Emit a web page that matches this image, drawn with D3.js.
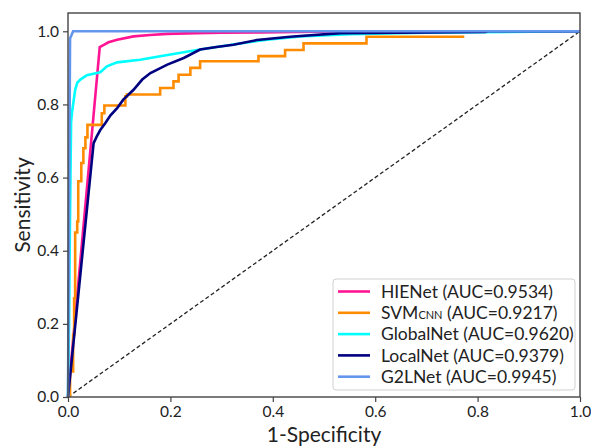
<!DOCTYPE html>
<html lang="en">
<head>
    <meta charset="UTF-8">
    <title>ROC</title>
    <style>
        body { margin: 0; background: #fff; }
        text { font-family: Lato, "Open Sans", sans-serif; fill: #222; }
    </style>
</head>
<body>
<script src="https://d3js.org/d3.v7.min.js"></script>
<script>
    // ROC points (fpr = 1-specificity, tpr = sensitivity)
    var hieFpr = [0, 0.062, 0.070, 0.079, 0.096, 0.128, 0.160, 0.194, 0.250, 0.300, 0.376, 0.550, 1.0];
    var hieTpr = [0, 0.957, 0.963, 0.970, 0.977, 0.986, 0.990, 0.993, 0.995, 0.996, 0.997, 1.0, 1.0];

    var svmFpr = [0.004, 0.004, 0.010, 0.010, 0.012, 0.012, 0.014, 0.014, 0.018, 0.018, 0.020, 0.020,
                  0.026, 0.026, 0.030, 0.030, 0.034, 0.034, 0.038, 0.038, 0.066, 0.066, 0.071, 0.071,
                  0.112, 0.112, 0.115, 0.115, 0.180, 0.180, 0.206, 0.206, 0.216, 0.216, 0.239, 0.239,
                  0.258, 0.258, 0.372, 0.372, 0.424, 0.424, 0.460, 0.460, 0.583, 0.583, 0.774];
    var svmTpr = [0, 0.070, 0.070, 0.170, 0.170, 0.270, 0.270, 0.450, 0.450, 0.480, 0.480, 0.590,
                  0.590, 0.640, 0.640, 0.680, 0.680, 0.710, 0.710, 0.744, 0.744, 0.776, 0.776, 0.797,
                  0.797, 0.822, 0.822, 0.827, 0.827, 0.845, 0.845, 0.863, 0.863, 0.881, 0.881, 0.900,
                  0.900, 0.918, 0.918, 0.932, 0.932, 0.949, 0.949, 0.967, 0.967, 0.985, 0.985];

    var globalFpr = [0, 0.002, 0.004, 0.006, 0.008, 0.011, 0.014, 0.018, 0.024, 0.037, 0.063, 0.076,
                     0.096, 0.141, 0.180, 0.258, 0.323, 0.389, 0.454, 0.550, 0.700, 1.0];
    var globalTpr = [0, 0.200, 0.500, 0.750, 0.780, 0.810, 0.840, 0.859, 0.868, 0.880, 0.888, 0.904,
                     0.915, 0.922, 0.932, 0.950, 0.964, 0.977, 0.986, 0.992, 0.996, 1.0];

    var localFpr = [0, 0.050, 0.056, 0.063, 0.073, 0.083, 0.096, 0.108, 0.128, 0.145, 0.161, 0.194,
                    0.226, 0.258, 0.290, 0.323, 0.369, 0.434, 0.532, 0.815, 0.820, 1.0];
    var localTpr = [0, 0.694, 0.712, 0.730, 0.749, 0.770, 0.790, 0.813, 0.840, 0.868, 0.886, 0.909,
                    0.927, 0.950, 0.957, 0.963, 0.976, 0.985, 0.995, 0.998, 1.0, 1.0];

    var g2lFpr = [0, 0.004, 0.010, 1.0];
    var g2lTpr = [0, 0.980, 1.0, 1.0];

    var names = ["HIENet", "SVM", "GlobalNet", "LocalNet", "G2LNet"];
    var aucs = ["0.9534", "0.9217", "0.9620", "0.9379", "0.9945"];
    var colors = ["#ff1493", "#ff8c00", "#00ffff", "#000080", "#6495ed"];
    var tickValues = [0, 0.2, 0.4, 0.6, 0.8, 1.0];

    var curves = [
        d3.zip(hieFpr, hieTpr),
        d3.zip(svmFpr, svmTpr),
        d3.zip(globalFpr, globalTpr),
        d3.zip(localFpr, localTpr),
        d3.zip(g2lFpr, g2lTpr)
    ];

    var width = 591, height = 448;
    var plotLeft = 68, plotRight = 580, plotTop = 13, plotBottom = 397;

    var svg = d3.select("body")
                .append("svg")
                .attr("width", width)
                .attr("height", height);

    var x = d3.scaleLinear().domain([0, 1]).range([plotLeft, plotRight]);
    var y = d3.scaleLinear().domain([0, 1.05]).range([plotBottom, plotTop]);

    // chance line
    svg.append("line")
        .attr("x1", x(0)).attr("y1", y(0))
        .attr("x2", x(1)).attr("y2", y(1))
        .attr("stroke", "#222")
        .attr("stroke-width", 1.3)
        .attr("stroke-dasharray", "4,2.5");

    var line = d3.line()
        .x(function (d) { return x(d[0]); })
        .y(function (d) { return y(d[1]); });

    svg.selectAll("path.roc")
        .data(curves)
        .enter()
        .append("path")
        .attr("class", "roc")
        .attr("d", line)
        .attr("fill", "none")
        .attr("stroke", function (d, i) { return colors[i]; })
        .attr("stroke-width", 2.6)
        .attr("stroke-linejoin", "miter");

    // axes
    var fmt = d3.format(".1f");
    var xAxis = svg.append("g")
        .attr("transform", "translate(0," + plotBottom + ")")
        .call(d3.axisBottom(x).tickValues(tickValues).tickFormat(fmt).tickSize(5).tickPadding(4));
    var yAxis = svg.append("g")
        .attr("transform", "translate(" + plotLeft + ",0)")
        .call(d3.axisLeft(y).tickValues(tickValues).tickFormat(fmt).tickSize(5).tickPadding(4));

    [xAxis, yAxis].forEach(function (g) {
        g.select(".domain").remove();
        g.selectAll(".tick line").attr("stroke", "#444").attr("stroke-width", 1.2);
        g.selectAll(".tick text")
            .attr("fill", "#333")
            .style("font-family", "Lato, sans-serif")
            .style("font-size", "15.5px");
    });

    // frame
    svg.append("rect")
        .attr("x", plotLeft).attr("y", plotTop)
        .attr("width", plotRight - plotLeft).attr("height", plotBottom - plotTop)
        .attr("fill", "none")
        .attr("stroke", "#444")
        .attr("stroke-width", 1.4);

    // axis titles
    svg.append("text")
        .attr("x", (plotLeft + plotRight) / 2)
        .attr("y", 442)
        .attr("text-anchor", "middle")
        .style("font-size", "21px")
        .text("1-Specificity");

    svg.append("text")
        .attr("transform", "translate(30," + (plotTop + plotBottom) / 2 + ") rotate(-90)")
        .attr("text-anchor", "middle")
        .style("font-size", "21px")
        .text("Sensitivity");

    // legend
    var legend = svg.append("g");
    legend.append("rect")
        .attr("x", 333).attr("y", 279)
        .attr("width", 242).attr("height", 111)
        .attr("rx", 3)
        .attr("fill", "#fff")
        .attr("fill-opacity", 0.85)
        .attr("stroke", "#d0d0d0")
        .attr("stroke-width", 1);

    var rows = legend.selectAll("g.row")
        .data(names)
        .enter()
        .append("g")
        .attr("class", "row")
        .attr("transform", function (d, i) { return "translate(0," + (291.5 + i * 21.3) + ")"; });

    rows.append("line")
        .attr("x1", 338).attr("x2", 370)
        .attr("stroke", function (d, i) { return colors[i]; })
        .attr("stroke-width", 2.6);

    var labels = rows.append("text")
        .attr("x", 381)
        .attr("dy", "0.35em")
        .style("font-size", "17.5px");

    labels.each(function (d, i) {
        var t = d3.select(this);
        t.append("tspan").text(d);
        if (d === "SVM") {
            t.append("tspan").style("font-size", "11px").text("CNN");
        }
        t.append("tspan").text(" (AUC=" + aucs[i] + ")");
    });
</script>
</body>
</html>
